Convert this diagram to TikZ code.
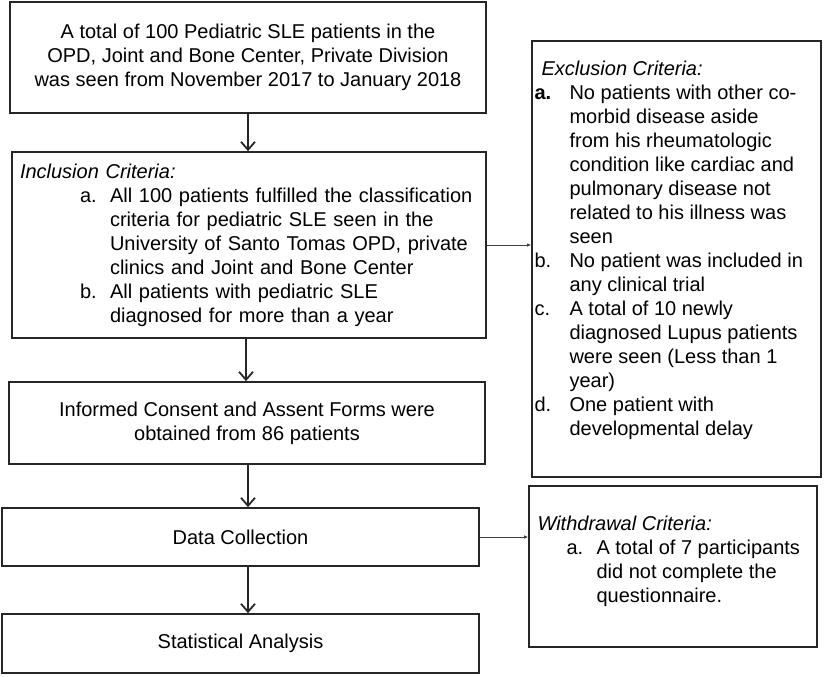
\documentclass[tikz,border=0pt]{standalone}
\usepackage{fontspec}
\setmainfont{Liberation Sans}
\usetikzlibrary{arrows.meta}

\tikzset{
  flowbox/.style={draw=black!85, line width=0.85pt, inner sep=0pt, font=\fontsize{10}{12}\selectfont},
  boxtext/.style={inner sep=0pt, align=left, anchor=north west, font=\fontsize{10}{12}\selectfont},
  downarrow/.style={draw=black!85, line width=0.7pt, -{Straight Barb[length=4pt,width=7pt,line width=0.9pt]}},
  sidearrow/.style={draw=black!75, line width=0.45pt, -{Latex[length=2pt,width=1.8pt]}}
}
\newcommand{\itemlabel}[2]{\makebox[#1][l]{#2}}

\begin{document}
\begin{tikzpicture}[x=0.5pt,y=0.5pt,yscale=-1,xscale=1]
    \useasboundingbox (0,0) rectangle (824,676);

    %Shape: Rectangle [total]
    \node [flowbox, minimum width=238pt, minimum height=55.5pt, align=center] (total) at (248,57.5)
      {A total of 100 Pediatric SLE patients in the\\OPD, Joint and Bone Center, Private Division\\was seen from November 2017 to January 2018};
    %Shape: Rectangle [incl]
    \node [flowbox, minimum width=237pt, minimum height=93pt, inner xsep=4pt, text width=229pt, align=left] (incl) at (249,245)
      {\textit{Inclusion Criteria:}\\
       \hspace*{30pt}\itemlabel{15pt}{a.}All 100 patients fulfilled the classification\\
       \hspace*{45pt}criteria for pediatric SLE seen in the\\
       \hspace*{45pt}University of Santo Tomas OPD, private\\
       \hspace*{45pt}clinics and Joint and Bone Center\\
       \hspace*{30pt}\itemlabel{15pt}{b.}All patients with pediatric SLE\\
       \hspace*{45pt}diagnosed for more than a year};
    %Shape: Rectangle [consent]
    \node [flowbox, minimum width=238pt, minimum height=41pt, align=center] (consent) at (247,423)
      {Informed Consent and Assent Forms were\\obtained from 86 patients};
    %Shape: Rectangle [collect]
    \node [flowbox, minimum width=238.5pt, minimum height=29pt] (collect) at (240.5,537) {Data Collection};
    %Shape: Rectangle [stats]
    \node [flowbox, minimum width=238.5pt, minimum height=29.5pt] (stats) at (240.5,643.5) {Statistical Analysis};
    %Shape: Rectangle [excl]
    \node [flowbox, minimum width=144.5pt, minimum height=218pt] (excl) at (676.5,259) {};
    %Shape: Rectangle [withdraw]
    \node [flowbox, minimum width=144pt, minimum height=80.5pt] (withdraw) at (673,566.5) {};

    % Text Node
    \node [boxtext] (excltext) at ([xshift=1.5pt,yshift=10pt]excl.north west)
      {\hspace*{3.5pt}\textit{Exclusion Criteria:}\\
       \itemlabel{17.5pt}{\textbf{a.}}No patients with other co-\\
       \hspace*{17.5pt}morbid disease aside\\
       \hspace*{17.5pt}from his rheumatologic\\
       \hspace*{17.5pt}condition like cardiac and\\
       \hspace*{17.5pt}pulmonary disease not\\
       \hspace*{17.5pt}related to his illness was\\
       \hspace*{17.5pt}seen\\
       \itemlabel{17.5pt}{b.}No patient was included in\\
       \hspace*{17.5pt}any clinical trial\\
       \itemlabel{17.5pt}{c.}A total of 10 newly\\
       \hspace*{17.5pt}diagnosed Lupus patients\\
       \hspace*{17.5pt}were seen (Less than 1\\
       \hspace*{17.5pt}year)\\
       \itemlabel{17.5pt}{d.}One patient with\\
       \hspace*{17.5pt}developmental delay};
    % Text Node
    \node [boxtext] (withdrawtext) at ([xshift=4.5pt,yshift=15pt]withdraw.north west)
      {\textit{Withdrawal Criteria:}\\
       \hspace*{14.5pt}\itemlabel{15pt}{a.}A total of 7 participants\\
       \hspace*{29.5pt}did not complete the\\
       \hspace*{29.5pt}questionnaire.};

    %Straight Lines
    \draw [downarrow] (total.south) -- (total.south |- incl.north);
    \draw [downarrow] ([xshift=-1.5pt]incl.south) -- ([xshift=-1.5pt]incl.south |- consent.north);
    \draw [downarrow] ([xshift=0.5pt]consent.south) -- ([xshift=0.5pt]consent.south |- collect.north);
    \draw [downarrow] ([xshift=3.75pt]collect.south) -- ([xshift=3.75pt]collect.south |- stats.north);
    %Straight Lines
    \draw [sidearrow] (incl.east) -- (incl.east -| excl.west);
    \draw [sidearrow] (collect.east) -- (collect.east -| withdraw.west);

\end{tikzpicture}
\end{document}
